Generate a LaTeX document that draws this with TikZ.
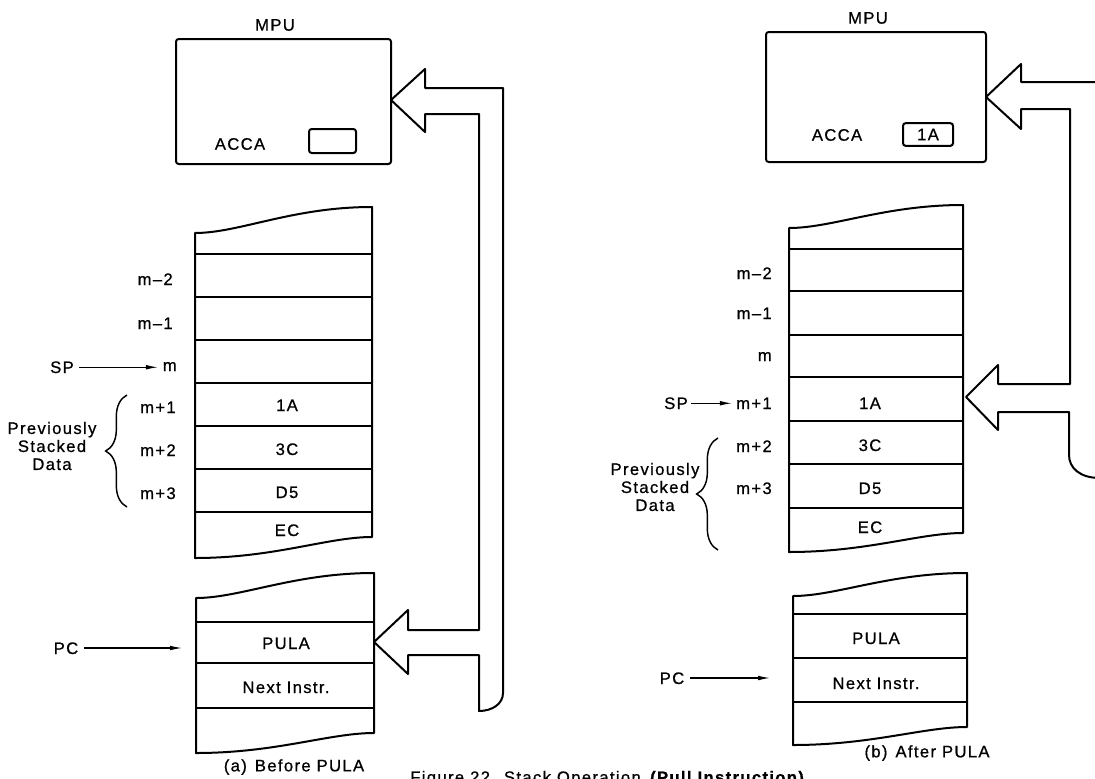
\documentclass[tikz,border=0pt]{standalone}
\usepackage{fontspec}
\setmainfont{Liberation Sans}[LetterSpace=8,FakeBold=0.7]
\usetikzlibrary{arrows.meta,decorations.pathreplacing}
\newcommand\figfont{\fontsize{12.5}{15}\selectfont}
\newcommand\wavystack[6]{%
  \draw[outline] (#1,#3) .. controls ({#1+0.25*(#2-#1)},#3) and ({#1+0.55*(#2-#1)},#4) .. (#2,#4)
    -- (#2,#5) .. controls ({#1+0.75*(#2-#1)},#5) and ({#1+0.45*(#2-#1)},#6) .. (#1,#6) -- cycle;}
\begin{document}
\begin{tikzpicture}[x=0.75pt,y=-0.75pt,
  outline/.style={line width=1.5pt, line join=round},
  rowline/.style={line width=1.3pt},
  lab/.style={font=\figfont, inner sep=0pt},
  ptr/.style={line width=0.8pt, -{Latex[length=9pt,width=3.5pt]}},
  brc/.style={line width=1.1pt, decorate, decoration={brace, amplitude=16pt, aspect=0.5}}]
\useasboundingbox (0,0) rectangle (1095,778);

% ================= LEFT PANEL (a) =================
\node[lab] (mpuLlab) at (275,25) {MPU};
\draw[outline, rounded corners=2pt] (176,39) rectangle (391,164);
\node[lab] (accaL) at (240,144) {ACCA};
\draw[outline, rounded corners=2pt] (309,129) rectangle (356,153);

% stack
\wavystack{195}{372}{233}{207}{537}{558}
\foreach \yy in {254,297,340,383,426,469,512}
  \draw[rowline] (195,\yy) -- (372,\yy);
\node[lab, anchor=base east] (mm2L) at (173,285) {m–2};
\node[lab, anchor=base east] (mm1L) at (173,329) {m–1};
\node[lab, anchor=base east] (mL)   at (177,371) {m};
\node[lab, anchor=base east] (mp1L) at (176,413) {m+1};
\node[lab, anchor=base east] (mp2L) at (176,456) {m+2};
\node[lab, anchor=base east] (mp3L) at (176,499) {m+3};
\node[lab, anchor=base] (d1L) at (287,411) {1A};
\node[lab, anchor=base] (d2L) at (287,455) {3C};
\node[lab, anchor=base] (d3L) at (287,498) {D5};
\node[lab, anchor=base] (d4L) at (287,536) {EC};
\node[lab, anchor=base] (spL) at (62,373) {SP};
\draw[ptr, shorten <=4pt, shorten >=3.5pt] (spL.east) -- (spL.east -| mL.west);
\draw[brc] (127,507) -- (127,395);
\node[lab, align=center] (prevL) at (52,446) {Previously\\[-1.5pt]Stacked\\[-1.5pt]Data};

% program stack
\wavystack{196}{374}{598}{573}{733}{753}
\foreach \yy in {622,663,708}
  \draw[rowline] (196,\yy) -- (374,\yy);
\node[lab, anchor=base] (pulaL) at (286,649) {PULA};
\node[lab, anchor=base] (nextL) at (286,693) {Next Instr.};
\node[lab, anchor=base] (pcL) at (66,654) {PC};
\coordinate (pcLend) at (182,648);
\draw[ptr, shorten <=4pt] (pcL.east |- pcLend) -- (pcLend);
\node[lab] (capA) at (294,767) {(a)\hspace{6pt}Before PULA};

% big arrow
\draw[outline] (391,100) -- (425,69) -- (425,88) -- (503,88) -- (503,693)
  .. controls (503,704) and (492,711) .. (479,711) -- (479,655) -- (408,655)
  -- (408,674) -- (374,642) -- (408,610) -- (408,630) -- (479,630) -- (479,114)
  -- (425,114) -- (425,132) -- cycle;

% ================= RIGHT PANEL (b) =================
\node[lab] (mpuRlab) at (868,18) {MPU};
\draw[outline, rounded corners=2pt] (766,32) rectangle (986,162);
\node[lab] (accaR) at (837,135) {ACCA};
\node[lab, draw, line width=1.5pt, rounded corners=2pt, minimum width=37.5pt, minimum height=17pt] (regR) at (928,134.5) {1A};

\wavystack{789}{963}{228}{205}{533}{552}
\foreach \yy in {249,291,335,377,421,464,508}
  \draw[rowline] (789,\yy) -- (963,\yy);
\node[lab, anchor=base east] (mm2R) at (772,279) {m–2};
\node[lab, anchor=base east] (mm1R) at (772,319) {m–1};
\node[lab, anchor=base east] (mR)   at (772,361) {m};
\node[lab, anchor=base east] (mp1R) at (772,409) {m+1};
\node[lab, anchor=base east] (mp2R) at (772,452) {m+2};
\node[lab, anchor=base east] (mp3R) at (772,494) {m+3};
\node[lab, anchor=base] (d1R) at (870,409) {1A};
\node[lab, anchor=base] (d2R) at (870,451) {3C};
\node[lab, anchor=base] (d3R) at (870,494) {D5};
\node[lab, anchor=base] (d4R) at (870,533) {EC};
\node[lab, anchor=base] (spR) at (676,409) {SP};
\draw[ptr, shorten <=2pt, shorten >=3pt] (spR.east) -- (spR.east -| mp1R.west);
\draw[brc] (718,550) -- (718,438);
\node[lab, align=center] (prevR) at (655,487) {Previously\\[-1.5pt]Stacked\\[-1.5pt]Data};

\wavystack{793}{967}{596}{573}{727}{745}
\foreach \yy in {614,658,702}
  \draw[rowline] (793,\yy) -- (967,\yy);
\node[lab, anchor=base] (pulaR) at (876,644) {PULA};
\node[lab, anchor=base] (nextR) at (876,689) {Next Instr.};
\node[lab, anchor=base] (pcR) at (672,684) {PC};
\coordinate (pcRend) at (770,678);
\draw[ptr, shorten <=4pt] (pcR.east |- pcRend) -- (pcRend);
\node[lab] (capB) at (927,753) {(b)\hspace{6pt}After PULA};

\draw[outline] (1100,82) -- (1021,82) -- (1021,64) -- (986,97) -- (1021,129)
  -- (1021,109) -- (1070,109) -- (1070,384) -- (998,384) -- (998,365)
  -- (966,397) -- (998,430) -- (998,412) -- (1069,412) -- (1069,455)
  .. controls (1069,468) and (1080,478) .. (1100,478);

% figure caption (cut by the page edge, as in the reference)
\node[lab, anchor=base west] (figcap) at (410,783) {Figure 22.\hspace{6pt}Stack Operation\hspace{6pt}\textbf{(Pull Instruction)}};
\end{tikzpicture}
\end{document}
